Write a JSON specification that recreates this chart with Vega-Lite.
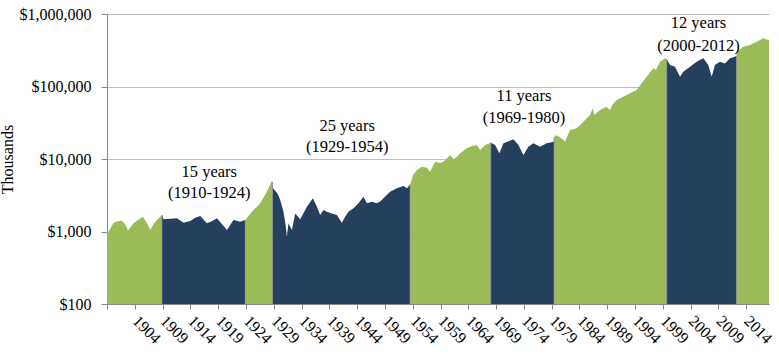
{
  "$schema": "https://vega.github.io/schema/vega-lite/v6.json",
  "width": 662,
  "height": 290,
  "autosize": {"type": "none"},
  "padding": {"left": 107, "top": 14, "right": 10, "bottom": 56},
  "config": {
    "view": {"stroke": null},
    "font": "Liberation Serif",
    "axis": {"labelFont": "Liberation Serif", "titleFont": "Liberation Serif"},
    "text": {"font": "Liberation Serif"}
  },
  "datasets": {
    "series": [
      {"year": 1900.0, "value": 1000, "segment": 1, "phase": "Bull"},
      {"year": 1900.23, "value": 980, "segment": 1, "phase": "Bull"},
      {"year": 1901.19, "value": 1322, "segment": 1, "phase": "Bull"},
      {"year": 1901.85, "value": 1380, "segment": 1, "phase": "Bull"},
      {"year": 1902.7, "value": 1410, "segment": 1, "phase": "Bull"},
      {"year": 1903.29, "value": 1250, "segment": 1, "phase": "Bull"},
      {"year": 1903.78, "value": 1030, "segment": 1, "phase": "Bull"},
      {"year": 1904.78, "value": 1297, "segment": 1, "phase": "Bull"},
      {"year": 1905.63, "value": 1450, "segment": 1, "phase": "Bull"},
      {"year": 1906.47, "value": 1600, "segment": 1, "phase": "Bull"},
      {"year": 1907.07, "value": 1350, "segment": 1, "phase": "Bull"},
      {"year": 1907.79, "value": 1050, "segment": 1, "phase": "Bull"},
      {"year": 1908.38, "value": 1268, "segment": 1, "phase": "Bull"},
      {"year": 1909.04, "value": 1450, "segment": 1, "phase": "Bull"},
      {"year": 1909.89, "value": 1690, "segment": 1, "phase": "Bull"},
      {"year": 1909.89, "value": 1690, "segment": 2, "phase": "Bear"},
      {"year": 1910.18, "value": 1473, "segment": 2, "phase": "Bear"},
      {"year": 1911.38, "value": 1500, "segment": 2, "phase": "Bear"},
      {"year": 1912.59, "value": 1521, "segment": 2, "phase": "Bear"},
      {"year": 1913.77, "value": 1322, "segment": 2, "phase": "Bear"},
      {"year": 1914.98, "value": 1400, "segment": 2, "phase": "Bear"},
      {"year": 1915.88, "value": 1550, "segment": 2, "phase": "Bear"},
      {"year": 1916.78, "value": 1637, "segment": 2, "phase": "Bear"},
      {"year": 1917.98, "value": 1297, "segment": 2, "phase": "Bear"},
      {"year": 1918.93, "value": 1400, "segment": 2, "phase": "Bear"},
      {"year": 1919.78, "value": 1521, "segment": 2, "phase": "Bear"},
      {"year": 1920.55, "value": 1300, "segment": 2, "phase": "Bear"},
      {"year": 1921.58, "value": 1050, "segment": 2, "phase": "Bear"},
      {"year": 1922.76, "value": 1443, "segment": 2, "phase": "Bear"},
      {"year": 1923.97, "value": 1365, "segment": 2, "phase": "Bear"},
      {"year": 1924.87, "value": 1443, "segment": 2, "phase": "Bear"},
      {"year": 1924.87, "value": 1443, "segment": 3, "phase": "Bull"},
      {"year": 1926.07, "value": 1875, "segment": 3, "phase": "Bull"},
      {"year": 1926.84, "value": 2150, "segment": 3, "phase": "Bull"},
      {"year": 1927.56, "value": 2449, "segment": 3, "phase": "Bull"},
      {"year": 1928.1, "value": 2900, "segment": 3, "phase": "Bull"},
      {"year": 1928.77, "value": 3540, "segment": 3, "phase": "Bull"},
      {"year": 1929.18, "value": 4200, "segment": 3, "phase": "Bull"},
      {"year": 1929.67, "value": 5022, "segment": 3, "phase": "Bull"},
      {"year": 1929.78, "value": 4800, "segment": 3, "phase": "Bull"},
      {"year": 1929.78, "value": 4800, "segment": 4, "phase": "Bear"},
      {"year": 1929.88, "value": 3945, "segment": 4, "phase": "Bear"},
      {"year": 1930.26, "value": 3656, "segment": 4, "phase": "Bear"},
      {"year": 1930.71, "value": 3300, "segment": 4, "phase": "Bear"},
      {"year": 1931.16, "value": 2719, "segment": 4, "phase": "Bear"},
      {"year": 1931.75, "value": 1875, "segment": 4, "phase": "Bear"},
      {"year": 1932.15, "value": 1200, "segment": 4, "phase": "Bear"},
      {"year": 1932.36, "value": 847, "segment": 4, "phase": "Bear"},
      {"year": 1932.65, "value": 1297, "segment": 4, "phase": "Bear"},
      {"year": 1933.26, "value": 1050, "segment": 4, "phase": "Bear"},
      {"year": 1933.86, "value": 1778, "segment": 4, "phase": "Bear"},
      {"year": 1934.76, "value": 1473, "segment": 4, "phase": "Bear"},
      {"year": 1935.96, "value": 2198, "segment": 4, "phase": "Bear"},
      {"year": 1937.04, "value": 2866, "segment": 4, "phase": "Bear"},
      {"year": 1937.76, "value": 2198, "segment": 4, "phase": "Bear"},
      {"year": 1938.35, "value": 1690, "segment": 4, "phase": "Bear"},
      {"year": 1938.95, "value": 1982, "segment": 4, "phase": "Bear"},
      {"year": 1939.56, "value": 1875, "segment": 4, "phase": "Bear"},
      {"year": 1940.46, "value": 1778, "segment": 4, "phase": "Bear"},
      {"year": 1941.35, "value": 1690, "segment": 4, "phase": "Bear"},
      {"year": 1942.25, "value": 1322, "segment": 4, "phase": "Bear"},
      {"year": 1942.85, "value": 1600, "segment": 4, "phase": "Bear"},
      {"year": 1943.44, "value": 1875, "segment": 4, "phase": "Bear"},
      {"year": 1944.34, "value": 2089, "segment": 4, "phase": "Bear"},
      {"year": 1945.24, "value": 2449, "segment": 4, "phase": "Bear"},
      {"year": 1946.14, "value": 3020, "segment": 4, "phase": "Bear"},
      {"year": 1946.75, "value": 2449, "segment": 4, "phase": "Bear"},
      {"year": 1947.65, "value": 2576, "segment": 4, "phase": "Bear"},
      {"year": 1948.55, "value": 2449, "segment": 4, "phase": "Bear"},
      {"year": 1949.14, "value": 2600, "segment": 4, "phase": "Bear"},
      {"year": 1949.73, "value": 2866, "segment": 4, "phase": "Bear"},
      {"year": 1950.94, "value": 3540, "segment": 4, "phase": "Bear"},
      {"year": 1952.14, "value": 3945, "segment": 4, "phase": "Bear"},
      {"year": 1953.33, "value": 4246, "segment": 4, "phase": "Bear"},
      {"year": 1953.94, "value": 3945, "segment": 4, "phase": "Bear"},
      {"year": 1954.53, "value": 4400, "segment": 4, "phase": "Bear"},
      {"year": 1954.53, "value": 4400, "segment": 5, "phase": "Bull"},
      {"year": 1955.07, "value": 6000, "segment": 5, "phase": "Bull"},
      {"year": 1955.74, "value": 7050, "segment": 5, "phase": "Bull"},
      {"year": 1956.64, "value": 7830, "segment": 5, "phase": "Bull"},
      {"year": 1957.54, "value": 7560, "segment": 5, "phase": "Bull"},
      {"year": 1958.13, "value": 6683, "segment": 5, "phase": "Bull"},
      {"year": 1959.03, "value": 9180, "segment": 5, "phase": "Bull"},
      {"year": 1959.93, "value": 8800, "segment": 5, "phase": "Bull"},
      {"year": 1960.52, "value": 9180, "segment": 5, "phase": "Bull"},
      {"year": 1961.73, "value": 11350, "segment": 5, "phase": "Bull"},
      {"year": 1962.32, "value": 10000, "segment": 5, "phase": "Bull"},
      {"year": 1962.81, "value": 10500, "segment": 5, "phase": "Bull"},
      {"year": 1963.53, "value": 11970, "segment": 5, "phase": "Bull"},
      {"year": 1964.73, "value": 14030, "segment": 5, "phase": "Bull"},
      {"year": 1965.51, "value": 15000, "segment": 5, "phase": "Bull"},
      {"year": 1966.53, "value": 15600, "segment": 5, "phase": "Bull"},
      {"year": 1967.13, "value": 13300, "segment": 5, "phase": "Bull"},
      {"year": 1968.02, "value": 15600, "segment": 5, "phase": "Bull"},
      {"year": 1969.04, "value": 16800, "segment": 5, "phase": "Bull"},
      {"year": 1969.04, "value": 16800, "segment": 6, "phase": "Bear"},
      {"year": 1969.82, "value": 15600, "segment": 6, "phase": "Bear"},
      {"year": 1970.59, "value": 11970, "segment": 6, "phase": "Bear"},
      {"year": 1971.31, "value": 16440, "segment": 6, "phase": "Bear"},
      {"year": 1972.15, "value": 17500, "segment": 6, "phase": "Bear"},
      {"year": 1973.11, "value": 18660, "segment": 6, "phase": "Bear"},
      {"year": 1974.01, "value": 15600, "segment": 6, "phase": "Bear"},
      {"year": 1974.91, "value": 11350, "segment": 6, "phase": "Bear"},
      {"year": 1975.8, "value": 14800, "segment": 6, "phase": "Bear"},
      {"year": 1976.7, "value": 16440, "segment": 6, "phase": "Bear"},
      {"year": 1977.91, "value": 14800, "segment": 6, "phase": "Bear"},
      {"year": 1979.11, "value": 16440, "segment": 6, "phase": "Bear"},
      {"year": 1980.42, "value": 17360, "segment": 6, "phase": "Bear"},
      {"year": 1980.42, "value": 20000, "segment": 7, "phase": "Bull"},
      {"year": 1980.78, "value": 21430, "segment": 7, "phase": "Bull"},
      {"year": 1981.5, "value": 19900, "segment": 7, "phase": "Bull"},
      {"year": 1982.4, "value": 17400, "segment": 7, "phase": "Bull"},
      {"year": 1983.3, "value": 25100, "segment": 7, "phase": "Bull"},
      {"year": 1984.5, "value": 26500, "segment": 7, "phase": "Bull"},
      {"year": 1985.69, "value": 32700, "segment": 7, "phase": "Bull"},
      {"year": 1986.89, "value": 40400, "segment": 7, "phase": "Bull"},
      {"year": 1987.38, "value": 50000, "segment": 7, "phase": "Bull"},
      {"year": 1987.67, "value": 40400, "segment": 7, "phase": "Bull"},
      {"year": 1988.69, "value": 47400, "segment": 7, "phase": "Bull"},
      {"year": 1989.9, "value": 52600, "segment": 7, "phase": "Bull"},
      {"year": 1990.5, "value": 47000, "segment": 7, "phase": "Bull"},
      {"year": 1990.85, "value": 55000, "segment": 7, "phase": "Bull"},
      {"year": 1991.7, "value": 65100, "segment": 7, "phase": "Bull"},
      {"year": 1992.88, "value": 72300, "segment": 7, "phase": "Bull"},
      {"year": 1994.08, "value": 80500, "segment": 7, "phase": "Bull"},
      {"year": 1995.29, "value": 89600, "segment": 7, "phase": "Bull"},
      {"year": 1996.19, "value": 110700, "segment": 7, "phase": "Bull"},
      {"year": 1997.09, "value": 136600, "segment": 7, "phase": "Bull"},
      {"year": 1998.28, "value": 178200, "segment": 7, "phase": "Bull"},
      {"year": 1998.77, "value": 170000, "segment": 7, "phase": "Bull"},
      {"year": 1999.48, "value": 220000, "segment": 7, "phase": "Bull"},
      {"year": 2000.38, "value": 245000, "segment": 7, "phase": "Bull"},
      {"year": 2000.69, "value": 237000, "segment": 7, "phase": "Bull"},
      {"year": 2000.69, "value": 237000, "segment": 8, "phase": "Bear"},
      {"year": 2001.28, "value": 198000, "segment": 8, "phase": "Bear"},
      {"year": 2002.18, "value": 187700, "segment": 8, "phase": "Bear"},
      {"year": 2003.08, "value": 136600, "segment": 8, "phase": "Bear"},
      {"year": 2003.67, "value": 160000, "segment": 8, "phase": "Bear"},
      {"year": 2004.88, "value": 187700, "segment": 8, "phase": "Bear"},
      {"year": 2006.08, "value": 220000, "segment": 8, "phase": "Bear"},
      {"year": 2007.27, "value": 245000, "segment": 8, "phase": "Bear"},
      {"year": 2008.17, "value": 198000, "segment": 8, "phase": "Bear"},
      {"year": 2008.78, "value": 136600, "segment": 8, "phase": "Bear"},
      {"year": 2009.37, "value": 198000, "segment": 8, "phase": "Bear"},
      {"year": 2010.27, "value": 220000, "segment": 8, "phase": "Bear"},
      {"year": 2011.17, "value": 208000, "segment": 8, "phase": "Bear"},
      {"year": 2012.07, "value": 245000, "segment": 8, "phase": "Bear"},
      {"year": 2012.97, "value": 258000, "segment": 8, "phase": "Bear"},
      {"year": 2013.24, "value": 265000, "segment": 8, "phase": "Bear"},
      {"year": 2013.24, "value": 265000, "segment": 9, "phase": "Bull"},
      {"year": 2013.27, "value": 302000, "segment": 9, "phase": "Bull"},
      {"year": 2014.46, "value": 354000, "segment": 9, "phase": "Bull"},
      {"year": 2015.67, "value": 373000, "segment": 9, "phase": "Bull"},
      {"year": 2016.87, "value": 415000, "segment": 9, "phase": "Bull"},
      {"year": 2018.06, "value": 462000, "segment": 9, "phase": "Bull"},
      {"year": 2018.96, "value": 438000, "segment": 9, "phase": "Bull"},
      {"year": 2019.09, "value": 450000, "segment": 9, "phase": "Bull"}
    ],
    "bounds": [
      {"year": 1909.89, "value": 1690},
      {"year": 1924.87, "value": 1443},
      {"year": 1929.78, "value": 4800},
      {"year": 1954.53, "value": 4400},
      {"year": 1969.04, "value": 16800},
      {"year": 1980.42, "value": 20000},
      {"year": 2000.69, "value": 237000},
      {"year": 2013.24, "value": 265000}
    ],
    "notes": [
      {"year": 1918.4, "value": 6620, "label": "15 years"},
      {"year": 1918.4, "value": 3396, "label": "(1910-1924)"},
      {"year": 1943.2, "value": 28500, "label": "25 years"},
      {"year": 1943.2, "value": 14650, "label": "(1929-1954)"},
      {"year": 1975.0, "value": 74000, "label": "11 years"},
      {"year": 1975.0, "value": 36800, "label": "(1969-1980)"},
      {"year": 2006.4, "value": 751000, "label": "12 years"},
      {"year": 2006.4, "value": 362000, "label": "(2000-2012)"}
    ]
  },
  "encoding": {
    "x": {
      "field": "year",
      "type": "quantitative",
      "scale": {"domain": [1900, 2019.09], "nice": false, "zero": false},
      "axis": {
        "values": [1900, 1905, 1910, 1915, 1920, 1925, 1930, 1935, 1940, 1945, 1950, 1955, 1960, 1965, 1970, 1975, 1980, 1985, 1990, 1995, 2000, 2005, 2010, 2015],
        "labelExpr": "datum.value == 1900 ? '' : '' + (datum.value - 1)",
        "labelAngle": 45,
        "labelAlign": "left",
        "labelBaseline": "middle",
        "labelFont": "Liberation Serif",
        "labelFontSize": 16,
        "labelColor": "#000000",
        "labelPadding": 9,
        "labelOverlap": false,
        "labelFlush": false,
        "labelBound": false,
        "tickSize": 5,
        "tickColor": "#868686",
        "domainColor": "#868686",
        "grid": false,
        "title": null
      }
    },
    "y": {
      "field": "value",
      "type": "quantitative",
      "stack": null,
      "scale": {"type": "log", "domain": [100, 1000000], "nice": false},
      "axis": {
        "values": [100, 1000, 10000, 100000, 1000000],
        "format": "$,.0f",
        "title": "Thousands",
        "titleFont": "Liberation Serif",
        "titleFontSize": 16,
        "titleFontWeight": "normal",
        "titleColor": "#000000",
        "titlePadding": 4,
        "labelFont": "Liberation Serif",
        "labelFontSize": 16,
        "labelColor": "#000000",
        "labelPadding": 10,
        "tickSize": 6,
        "tickColor": "#868686",
        "domainColor": "#868686",
        "grid": true,
        "gridColor": "#BFBFBF"
      }
    }
  },
  "layer": [
    {
      "data": {"name": "series"},
      "mark": {"type": "area", "interpolate": "linear"},
      "encoding": {
        "y2": {"datum": 100},
        "color": {
          "field": "phase",
          "type": "nominal",
          "scale": {"domain": ["Bull", "Bear"], "range": ["#9BBB59", "#253F5F"]},
          "legend": null
        },
        "detail": {"field": "segment", "type": "nominal"}
      }
    },
    {
      "data": {"name": "bounds"},
      "mark": {"type": "rule", "color": "#8C8C8C", "strokeWidth": 1, "opacity": 0.8},
      "encoding": {
        "y2": {"datum": 100}
      }
    },
    {
      "data": {"name": "notes"},
      "mark": {"type": "text", "fontSize": 16.5, "font": "Liberation Serif", "color": "#000000", "baseline": "middle", "align": "center"},
      "encoding": {
        "text": {"field": "label"}
      }
    }
  ]
}
